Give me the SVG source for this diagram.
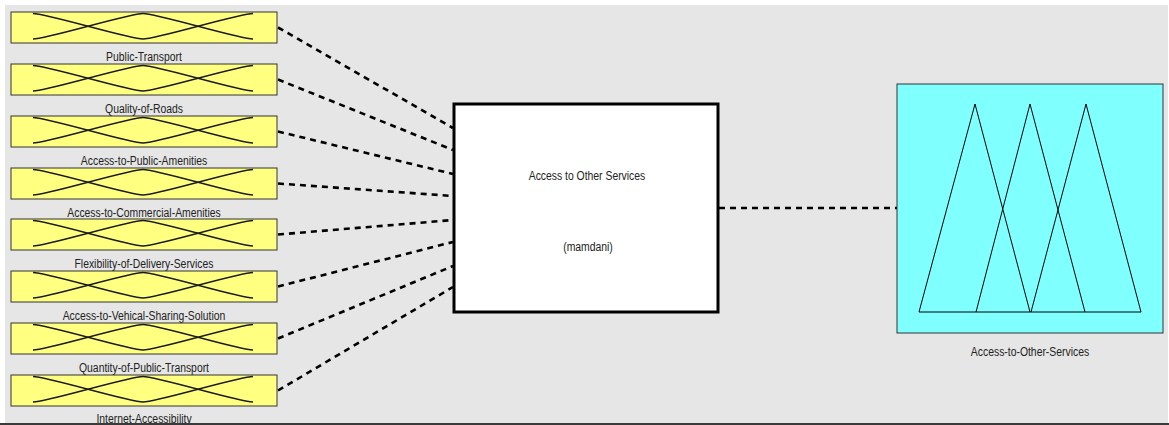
<svg xmlns="http://www.w3.org/2000/svg" xmlns:xlink="http://www.w3.org/1999/xlink" width="1169" height="425" viewBox="0 0 1169 425">
<style>
.bg{fill:#e6e6e6}
.inbox{fill:#ffff80;stroke:#333;stroke-width:1}
.mf{fill:none;stroke:#1a1a1a;stroke-width:1.3}
.lbl{font-family:"Liberation Sans",Arial,sans-serif;font-size:13.5px;fill:#222;text-anchor:middle}
.conn{fill:none;stroke:#000;stroke-width:2.6;stroke-dasharray:6 5}
.core{fill:#fff;stroke:#000;stroke-width:3}
.outbox{fill:#80ffff;stroke:#333;stroke-width:1}
.tri{fill:none;stroke:#000;stroke-width:1}
</style>
<defs>
<g id="inshape">
<rect class="inbox" x="0" y="0" width="266" height="31"/>
<path class="mf" d="M22,1.5 C36,1.5 118,27 132,27"/>
<path class="mf" d="M22,27 C36,27 118,1.5 132,1.5 C146,1.5 228,27 242,27"/>
<path class="mf" d="M132,27 C146,27 228,1.5 242,1.5"/>
</g>
</defs>
<rect x="0" y="0" width="1169" height="425" fill="#fff"/>
<rect class="bg" x="5" y="5" width="1163" height="418"/>

<g id="connectors">
<line class="conn" x1="278" y1="27.5" x2="453" y2="128"/>
<line class="conn" x1="278" y1="79.5" x2="453" y2="150"/>
<line class="conn" x1="278" y1="131.5" x2="453" y2="174"/>
<line class="conn" x1="278" y1="183.5" x2="453" y2="196"/>
<line class="conn" x1="278" y1="234.5" x2="453" y2="220"/>
<line class="conn" x1="278" y1="286.5" x2="453" y2="242"/>
<line class="conn" x1="278" y1="338.5" x2="453" y2="266"/>
<line class="conn" x1="278" y1="390.5" x2="453" y2="287"/>
<line class="conn" x1="719" y1="208" x2="897" y2="208"/>
</g>

<g id="in1"><use xlink:href="#inshape" x="11" y="12"/><text class="lbl" transform="translate(144,61) scale(0.77,1)">Public-Transport</text></g>
<g id="in2"><use xlink:href="#inshape" x="11" y="64"/><text class="lbl" transform="translate(144,113) scale(0.77,1)">Quality-of-Roads</text></g>
<g id="in3"><use xlink:href="#inshape" x="11" y="116"/><text class="lbl" transform="translate(144,165) scale(0.77,1)">Access-to-Public-Amenities</text></g>
<g id="in4"><use xlink:href="#inshape" x="11" y="168"/><text class="lbl" transform="translate(144,217) scale(0.77,1)">Access-to-Commercial-Amenities</text></g>
<g id="in5"><use xlink:href="#inshape" x="11" y="219"/><text class="lbl" transform="translate(144,268) scale(0.77,1)">Flexibility-of-Delivery-Services</text></g>
<g id="in6"><use xlink:href="#inshape" x="11" y="271"/><text class="lbl" transform="translate(144,320) scale(0.77,1)">Access-to-Vehical-Sharing-Solution</text></g>
<g id="in7"><use xlink:href="#inshape" x="11" y="323"/><text class="lbl" transform="translate(144,372) scale(0.77,1)">Quantity-of-Public-Transport</text></g>
<g id="in8"><use xlink:href="#inshape" x="11" y="375"/><text class="lbl" transform="translate(144,423) scale(0.77,1)">Internet-Accessibility</text></g>

<g id="system">
<rect class="core" x="454" y="104" width="264" height="208"/>
<text class="lbl" transform="translate(587,180) scale(0.77,1)">Access to Other Services</text>
<text class="lbl" transform="translate(588,251) scale(0.77,1)">(mamdani)</text>
</g>

<g id="output">
<rect class="outbox" x="897" y="84" width="266" height="249"/>
<line class="tri" x1="919" y1="312" x2="1141" y2="312"/>
<polyline class="tri" points="919,312 975,104 1030,312"/>
<polyline class="tri" points="976,312 1030,104 1085,312"/>
<polyline class="tri" points="1031,312 1086,104 1141,312"/>
<text class="lbl" transform="translate(1030,356) scale(0.77,1)">Access-to-Other-Services</text>
</g>

<rect x="0" y="423" width="1169" height="2" fill="#3a3a3a"/>
</svg>
